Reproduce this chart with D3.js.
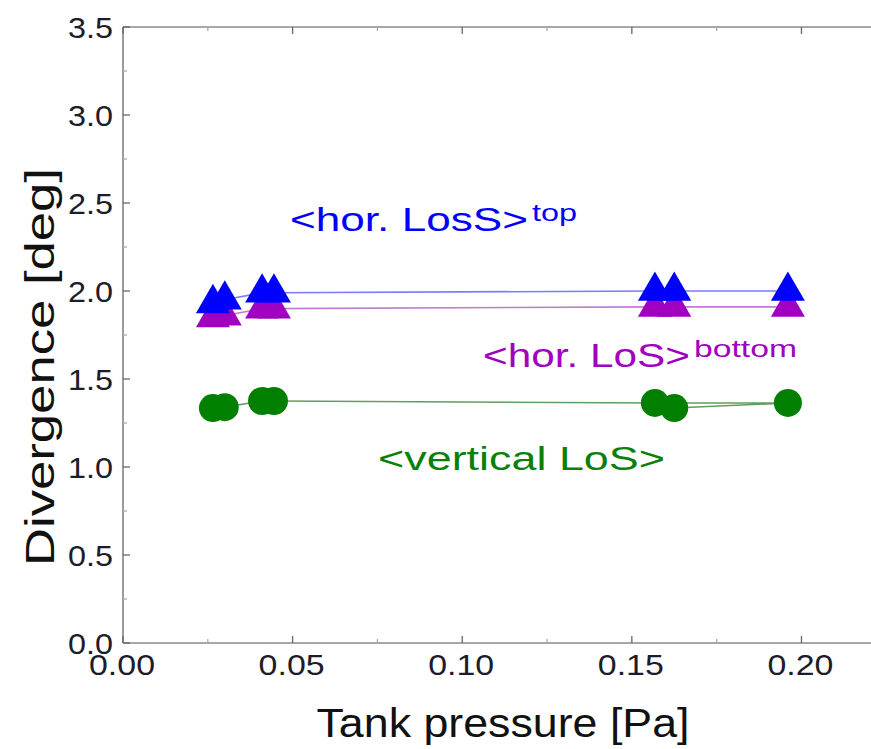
<!DOCTYPE html>
<html>
<head>
<meta charset="utf-8">
<script src="https://cdn.jsdelivr.net/npm/d3@7"></script>
<style>
  html, body { margin: 0; padding: 0; background: #fff; }
  svg { display: block; font-family: "Liberation Sans", Arial, sans-serif; }
</style>
</head>
<body>
<svg id="chart" width="871" height="749"></svg>
<script>
// Tank pressure [Pa] for each measurement (drawing order of the connecting lines)
const pressure = [0.0265, 0.0300, 0.0410, 0.0445, 0.1568, 0.1960, 0.1625];

// Divergence [deg] per line of sight
const horTop    = [1.93, 1.95, 1.99, 1.99, 2.00, 2.00, 2.00];
const horBottom = [1.85, 1.86, 1.90, 1.90, 1.91, 1.91, 1.91];
const vertical  = [1.335, 1.34, 1.375, 1.375, 1.364, 1.364, 1.335];

const xMajor = [0.00, 0.05, 0.10, 0.15, 0.20];
const xMinor = [0.025, 0.075, 0.125, 0.175, 0.225];
const yMajor = [0.0, 0.5, 1.0, 1.5, 2.0, 2.5, 3.0, 3.5];
const yMinor = [0.25, 0.75, 1.25, 1.75, 2.25, 2.75, 3.25];

const svg = d3.select("#chart");
const plotLeft = 123, plotTop = 27, plotBottom = 643, plotRight = 871;

const x = d3.scaleLinear().domain([0, 0.2205]).range([plotLeft, plotRight]);
const y = d3.scaleLinear().domain([0, 3.5]).range([plotBottom, plotTop]);

const axisColor = "#8a8a8a";
const tickText = "#1c1c2a";

// frame: left, bottom and top edges
const frame = svg.append("g").attr("stroke", axisColor).attr("stroke-width", 1.7).attr("fill", "none");
frame.append("line").attr("x1", x(0)).attr("x2", x(0)).attr("y1", y(0)).attr("y2", y(3.5));
frame.append("line").attr("x1", x(0)).attr("x2", x(0.2205)).attr("y1", y(0)).attr("y2", y(0));
frame.append("line").attr("x1", x(0)).attr("x2", x(0.2205)).attr("y1", y(3.5)).attr("y2", y(3.5));

// inward ticks on bottom/top and left
const ticks = svg.append("g").attr("stroke", "#666").attr("stroke-width", 1.3);
xMajor.forEach(v => {
  ticks.append("line").attr("x1", x(v)).attr("x2", x(v)).attr("y1", y(0)).attr("y2", y(0) - 7);
  ticks.append("line").attr("x1", x(v)).attr("x2", x(v)).attr("y1", y(3.5)).attr("y2", y(3.5) + 7);
});
xMinor.forEach(v => {
  ticks.append("line").attr("x1", x(v)).attr("x2", x(v)).attr("y1", y(0)).attr("y2", y(0) - 4).attr("stroke", "#aaa");
  ticks.append("line").attr("x1", x(v)).attr("x2", x(v)).attr("y1", y(3.5)).attr("y2", y(3.5) + 4).attr("stroke", "#aaa");
});
yMajor.forEach(v => {
  ticks.append("line").attr("x1", x(0)).attr("x2", x(0) + 7).attr("y1", y(v)).attr("y2", y(v));
});
yMinor.forEach(v => {
  ticks.append("line").attr("x1", x(0)).attr("x2", x(0) + 4).attr("y1", y(v)).attr("y2", y(v)).attr("stroke", "#aaa");
});

// tick labels
svg.append("g").selectAll("text").data(xMajor).join("text")
  .attr("x", d => x(d) - 1).attr("y", 675)
  .attr("text-anchor", "middle").attr("font-size", 30).attr("fill", tickText)
  .attr("textLength", 66).attr("lengthAdjust", "spacingAndGlyphs")
  .text(d => d3.format(".2f")(d));
svg.append("g").selectAll("text").data(yMajor).join("text")
  .attr("x", 113).attr("y", d => y(d) + 10.5)
  .attr("text-anchor", "end").attr("font-size", 30).attr("fill", tickText)
  .attr("textLength", 45).attr("lengthAdjust", "spacingAndGlyphs")
  .text(d => d3.format(".1f")(d));

// axis titles
svg.append("text").attr("x", 503).attr("y", 737).attr("text-anchor", "middle")
  .attr("font-size", 41).attr("fill", "#111")
  .attr("textLength", 373).attr("lengthAdjust", "spacingAndGlyphs")
  .text("Tank pressure [Pa]");
svg.append("text").attr("transform", "translate(54,367) rotate(-90)")
  .attr("text-anchor", "middle").attr("font-size", 41).attr("fill", "#111")
  .attr("textLength", 398).attr("lengthAdjust", "spacingAndGlyphs")
  .text("Divergence [deg]");

// series: connecting line + markers
function series(vals, lineColor, fill, symbol, size) {
  const pts = pressure.map((p, i) => [x(p), y(vals[i])]);
  svg.append("path").attr("d", d3.line()(pts)).attr("fill", "none")
    .attr("stroke", lineColor).attr("stroke-width", 1.6);
  svg.append("g").selectAll("path").data(pts).join("path")
    .attr("transform", d => `translate(${d[0]},${d[1]})`)
    .attr("d", d3.symbol().type(symbol).size(size)())
    .attr("fill", fill);
}
series(vertical, "#5f9f5f", "#007f00", d3.symbolCircle, Math.PI * 14 * 14);
series(horBottom, "#c27ad6", "#a000c0", d3.symbolTriangle, 500);
series(horTop, "#7b7bff", "#0000ff", d3.symbolTriangle, 500);

// series labels (main text + superscript)
function label(txt, sup, x0, base, wMain, supX, wSup, color) {
  svg.append("text").attr("x", x0).attr("y", base).attr("font-size", 33).attr("fill", color)
    .attr("textLength", wMain).attr("lengthAdjust", "spacingAndGlyphs").text(txt);
  if (sup) {
    svg.append("text").attr("x", supX).attr("y", base - 10).attr("font-size", 24).attr("fill", color)
      .attr("textLength", wSup).attr("lengthAdjust", "spacingAndGlyphs").text(sup);
  }
}
label("<hor. LosS>", "top", 290, 231, 238, 532, 45, "#0000ff");
label("<hor. LoS>", "bottom", 483, 367, 207, 694, 103, "#a000c0");
label("<vertical LoS>", null, 378, 470, 287, 0, 0, "#0a800a");
</script>
</body>
</html>
